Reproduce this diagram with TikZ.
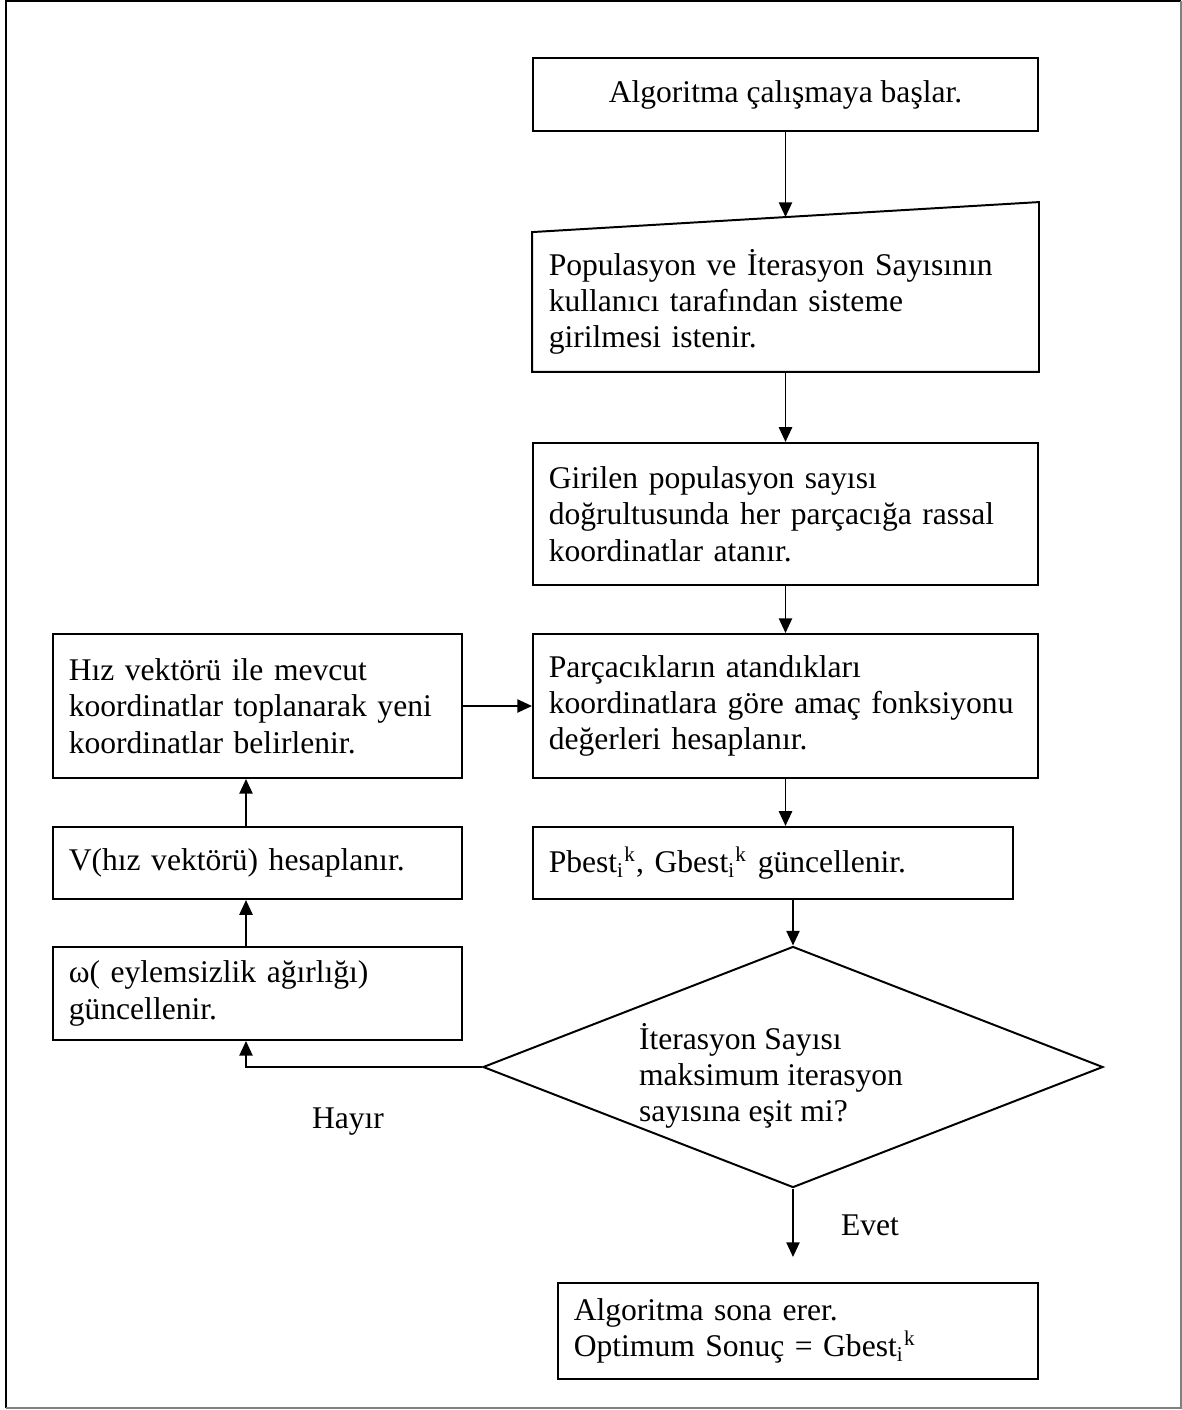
\documentclass[tikz,border=0pt]{standalone}
\usepackage{fontspec}
\setmainfont{Liberation Serif}
\usepackage{tikz}
\usetikzlibrary{calc}
\usetikzlibrary{arrows.meta, shapes.geometric}

\begin{document}
\begin{tikzpicture}[x=0.38pt, y=-0.38pt, line width=0.75pt,
  font=\fontsize{12}{13.8}\selectfont,
  box/.style={draw, rectangle, inner xsep=6pt, inner ysep=0pt, align=left},
  arr/.style={-{Triangle[length=5.6pt, width=5pt]}}]

  % Frame
  \useasboundingbox (0,0) rectangle (1182,1410);
  \draw[line width=0.8pt] (6,1408) -- (6,1) -- (1181,1);
  \draw[gray] (1181,1) -- (1181,1408) -- (6,1408);

  % Left column guide
  \coordinate (lcol) at (246,0);

  % Right column
  \node[box, align=center, minimum width=191.9pt, minimum height=27.7pt]
    (start) at (785.5,94.5) {Algoritma çalışmaya başlar.};

  \node[box, draw=none, text width=179.9pt, minimum height=52.4pt]
    (input) at (785.5,302)
    {Populasyon ve İterasyon Sayısının\\ kullanıcı tarafından sisteme\\ girilmesi istenir.};
  \draw (input.south west) -- (input.south east)
    -- ($(input.north east)+(0,-30)$) -- (input.north west) -- cycle;
  \coordinate (inputtop) at ($(input.north)+(0,-15)$);

  \node[box, text width=179.9pt, minimum height=54pt]
    (assign) at (785.5,514)
    {Girilen populasyon sayısı\\ doğrultusunda her parçacığa rassal\\ koordinatlar atanır.};

  \node[box, text width=179.9pt, minimum height=54.7pt]
    (evaluate) at (785.5,706)
    {Parçacıkların atandıkları\\ koordinatlara göre amaç fonksiyonu\\ değerleri hesaplanır.};

  \node[box, text width=170.4pt, minimum height=27.4pt]
    (update) at (773,863)
    {Pbest\textsubscript{i}\textsuperscript{k}, Gbest\textsubscript{i}\textsuperscript{k} güncellenir.};

  % Decision
  \node[diamond, draw, inner sep=0pt, minimum width=235.6pt,
    minimum height=91.6pt] (check) at (793,1067) {};
  \node[align=left] (checktext) at (771,1076)
    {İterasyon Sayısı\\ maksimum iterasyon\\ sayısına eşit mi?};

  \node[box, text width=170.4pt, minimum height=36.5pt]
    (finish) at (798,1331)
    {Algoritma sona erer.\\ Optimum Sonuç = Gbest\textsubscript{i}\textsuperscript{k}};
  \coordinate (finishtop) at ($(check.south |- finish.north)+(0,-25)$);

  % Left column
  \node[box, text width=143.4pt, minimum height=54.7pt]
    (position) at (257.5,706)
    {Hız vektörü ile mevcut\\ koordinatlar toplanarak yeni\\ koordinatlar belirlenir.};

  \node[box, text width=143.4pt, minimum height=27.4pt]
    (velocity) at (257.5,863) {V(hız vektörü) hesaplanır.};

  \node[box, text width=143.4pt, minimum height=35.3pt]
    (inertia) at (257.5,993.5) {ω( eylemsizlik ağırlığı)\\ güncellenir.};

  % Arrows
  \draw[arr] (start.south) -- (inputtop);
  \foreach \a/\b in {input/assign, assign/evaluate} {
    \draw[arr] (\a.south) -- (\b.north);
  }
  \draw[arr] (evaluate.south) -- (evaluate.south |- update.north);
  \draw[arr] (update.south -| check.north) -- (check.north);
  \draw[arr] (check.south) -- (finishtop);
  \node (yes) at (870,1225) {Evet};

  \draw[arr] (check.west) -- (check.west -| lcol) -- (lcol |- inertia.south);
  \node (no) at (348,1122) {Hayır};
  \draw[arr] (lcol |- inertia.north) -- (lcol |- velocity.south);
  \draw[arr] (lcol |- velocity.north) -- (lcol |- position.south);
  \draw[arr] (position.east) -- (position.east -| evaluate.west);

\end{tikzpicture}
\end{document}
